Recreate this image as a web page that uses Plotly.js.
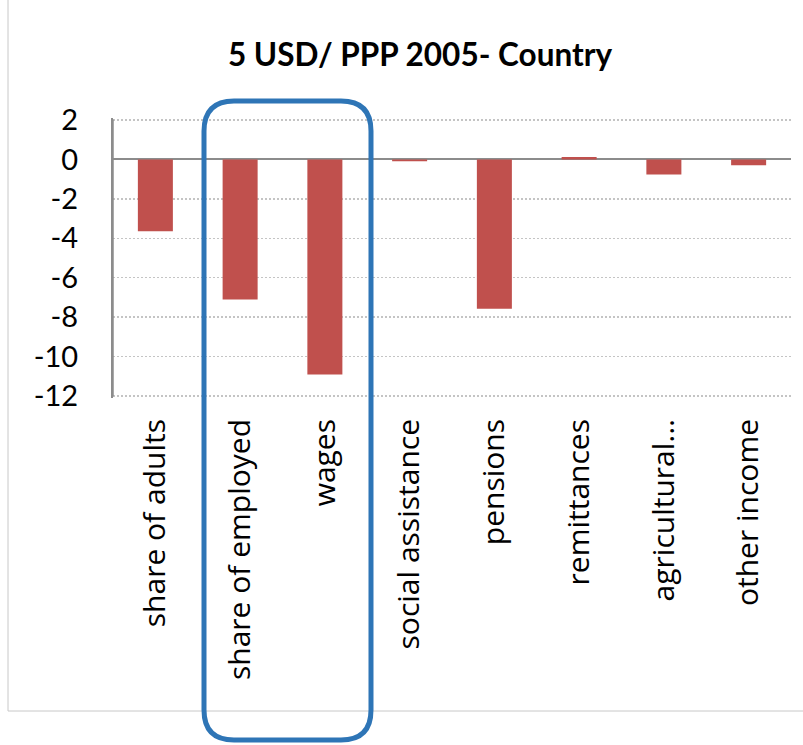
<!DOCTYPE html>
<html>
<head>
<meta charset="utf-8">
<script src="https://cdn.plot.ly/plotly-3.0.1.min.js"></script>
<style>
html, body { margin: 0; padding: 0; background: #ffffff; }
#chart { width: 803px; height: 745px; }
</style>
</head>
<body>
<div id="chart"></div>
<script>
// Data
var categories = ['share of adults', 'share of employed', 'wages', 'social assistance',
                  'pensions', 'remittances', 'agricultural...', 'other income'];
var values = [-3.64, -7.11, -10.91, -0.09, -7.58, 0.12, -0.76, -0.30];
var yTickValues = [2, 0, -2, -4, -6, -8, -10, -12];
var chartTitle = '5 USD/ PPP 2005- Country';

// Layout geometry (pixels)
var W = 803, H = 745;
var M = { l: 113, r: 12, t: 118, b: 347 };
var PW = W - M.l - M.r, PH = H - M.t - M.b;
function px(x) { return (x - M.l) / PW; }
function py(y) { return (H - M.b - y) / PH; }

// rounded highlight rectangle (pixel geometry converted to paper coords)
function roundedRect(x0, y0, x1, y1, r) {
  function P(x, y) { return px(x).toFixed(5) + ',' + py(y).toFixed(5); }
  return 'M' + P(x0 + r, y0) +
         ' L' + P(x1 - r, y0) +
         ' Q' + P(x1, y0) + ' ' + P(x1, y0 + r) +
         ' L' + P(x1, y1 - r) +
         ' Q' + P(x1, y1) + ' ' + P(x1 - r, y1) +
         ' L' + P(x0 + r, y1) +
         ' Q' + P(x0, y1) + ' ' + P(x0, y1 - r) +
         ' L' + P(x0, y0 + r) +
         ' Q' + P(x0, y0) + ' ' + P(x0 + r, y0) + ' Z';
}

var trace = {
  type: 'bar',
  x: categories,
  y: values,
  marker: { color: '#C0504D', line: { width: 0 } },
  hoverinfo: 'x+y'
};

var layout = {
  width: W, height: H,
  margin: M,
  paper_bgcolor: '#ffffff',
  plot_bgcolor: '#ffffff',
  showlegend: false,
  bargap: 0.587,
  title: {
    text: '<b>' + chartTitle + '</b>',
    font: { family: 'Lato, sans-serif', size: 31.5, color: '#000000' },
    xref: 'paper', x: px(420), xanchor: 'center',
    yref: 'container', y: 1 - 55 / H, yanchor: 'middle'
  },
  xaxis: {
    type: 'category',
    showline: false, showgrid: false, zeroline: false,
    ticks: 'outside', ticklen: 8, tickcolor: 'rgba(0,0,0,0)',
    tickangle: -90,
    tickfont: { family: '"Open Sans", sans-serif', size: 30, color: '#000000' }
  },
  yaxis: {
    range: [-12.1, 2.1],
    tickvals: yTickValues,
    ticktext: yTickValues.map(String),
    showline: true, linecolor: '#8C8C8C', linewidth: 2,
    showgrid: true, gridcolor: '#C4C4C4', gridwidth: 1.5, griddash: '1.5px,2.5px',
    zeroline: true, zerolinecolor: '#8C8C8C', zerolinewidth: 2,
    ticks: 'outside', ticklen: 27, tickcolor: 'rgba(0,0,0,0)',
    tickfont: { family: 'Lato, sans-serif', size: 29, color: '#000000' }
  },
  shapes: [
    // vertical value axis line reinforcement (2 down to -12)
    { type: 'line', xref: 'paper', yref: 'paper', layer: 'above',
      x0: px(112.5), x1: px(112.5), y0: py(119.5), y1: py(396.5),
      line: { color: '#8C8C8C', width: 2.5 } },
    // chart frame (left and bottom edges visible)
    { type: 'line', xref: 'paper', yref: 'paper', x0: px(8), x1: px(8), y0: py(0), y1: py(711),
      line: { color: '#C8C8C8', width: 1 } },
    { type: 'line', xref: 'paper', yref: 'paper', x0: px(8), x1: px(803), y0: py(711), y1: py(711),
      line: { color: '#C8C8C8', width: 1 } },
    // blue highlight box
    { type: 'path', xref: 'paper', yref: 'paper', layer: 'above',
      path: roundedRect(204, 101, 371, 740, 30),
      line: { color: '#2E75B6', width: 5 }, fillcolor: 'rgba(0,0,0,0)' }
  ]
};

Plotly.newPlot('chart', [trace], layout, { displayModeBar: false, staticPlot: true });
</script>
</body>
</html>
